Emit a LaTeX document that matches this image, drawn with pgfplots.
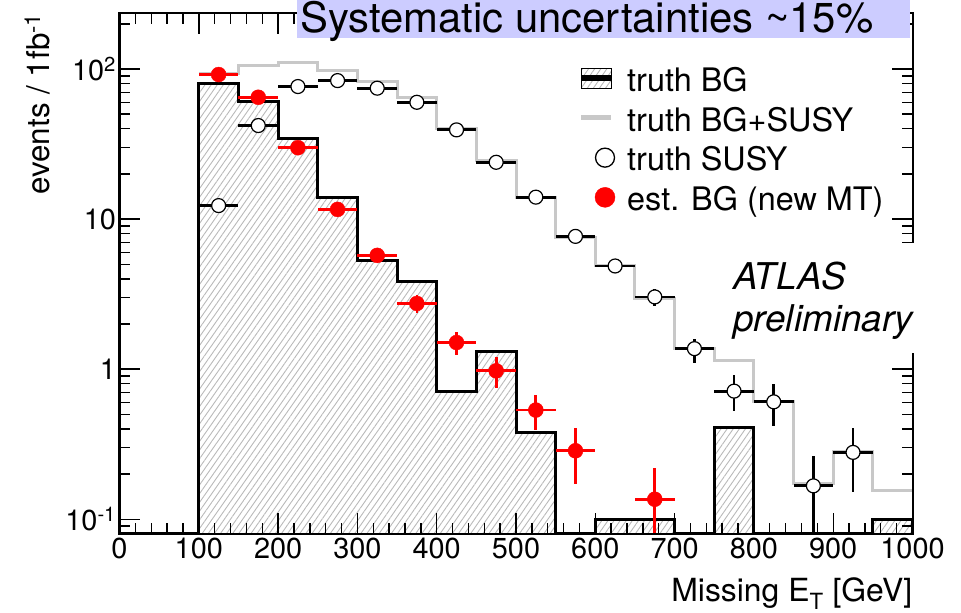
\documentclass[border=0pt]{standalone}
\usepackage{fontspec}
\setmainfont{TeX Gyre Heros}
\usepackage{pgfplots}
\pgfplotsset{compat=1.18}
\usepackage{pgfplotstable}
\usetikzlibrary{patterns.meta}
\definecolor{histgray}{RGB}{200,200,200}
\definecolor{lav}{RGB}{204,204,255}
\definecolor{hatch}{RGB}{185,185,185}

% truth BG histogram (bin left edge, content); 0.08 = empty bin (axis bottom)
\pgfplotstableread{
x y
0 0.08
100 79.6
150 60.7
200 34.6
250 14.0
300 5.31
350 3.85
400 0.714
450 1.318
500 0.38
550 0.08
600 0.1
650 0.1
700 0.08
750 0.409
800 0.08
850 0.08
900 0.08
950 0.1
1000 0.1
1000 0.08
}\truthbg

% truth BG+SUSY histogram
\pgfplotstableread{
x y
100 92.6
150 105
200 111
250 97.6
300 82.8
350 64.3
400 40
450 24.6
500 14.0
550 7.59
600 4.92
650 2.97
700 1.37
750 1.14
800 0.606
850 0.172
900 0.282
950 0.155
1000 0.155
}\bgsusy

% truth SUSY points
\pgfplotstableread{
x y ex eyp eym
125 12.3 25 0.5 0.5
175 42 25 1 1
225 76.4 25 1.5 1.5
275 83.7 25 1.5 1.5
325 74.5 25 1.5 1.5
375 60 25 1.3 1.3
425 39.3 25 1 1
475 23.9 25 0.8 0.8
525 14.0 25 0.6 0.6
575 7.67 25 0.45 0.45
625 4.87 25 0.35 0.35
675 3.03 25 0.4 0.4
725 1.37 25 0.23 0.27
775 0.714 25 0.2 0.19
825 0.606 25 0.19 0.19
875 0.167 25 0.097 0.16
925 0.279 25 0.124 0.126
}\susy

% estimated BG (new MT)
\pgfplotstableread{
x y ex eyp eym
125 91.8 25 1.5 1.5
175 64.8 25 1.3 1.3
225 29.9 25 0.8 0.8
275 11.6 25 0.5 0.5
325 5.73 25 0.35 0.35
375 2.74 25 0.36 0.39
425 1.505 25 0.265 0.265
475 0.975 25 0.235 0.22
525 0.534 25 0.136 0.141
575 0.286 25 0.117 0.113
675 0.136 25 0.082 0.126
}\estbg

\begin{document}
\begin{tikzpicture}
\useasboundingbox (0bp,0bp) rectangle (961bp,613bp);
\begin{axis}[
  at={(119.5bp,79bp)}, anchor=south west,
  scale only axis, width=793bp, height=520.7bp,
  ymode=log,
  xmin=0, xmax=1000, ymin=0.0798, ymax=235,
  xtick={0,100,200,300,400,500,600,700,800,900,1000},
  xticklabels={0,100,200,300,400,500,600,700,800,900,1000},
  minor x tick num=4,
  ytick={0.1,1,10,100},
  yticklabels={10\textsuperscript{-1},1,10,10\textsuperscript{2}},
  minor ytick={0.09,0.2,0.3,0.4,0.5,0.6,0.7,0.8,0.9,2,3,4,5,6,7,8,9,20,30,40,50,60,70,80,90,200},
  tick align=inside,
  major tick length=21bp, minor tick length=11bp,
  tick style={line width=1.4bp, black},
  axis line style={line width=2bp},
  ticklabel style={font=\fontsize{29}{34}\selectfont},
  axis on top,
  xlabel={Missing E\textsubscript{T} [GeV]},
  xlabel style={at={(axis description cs:1,-0.130)}, anchor=base east, inner sep=0pt, font=\fontsize{32}{38}\selectfont},
  ylabel={events / 1fb\textsuperscript{-1}},
  ylabel style={at={(axis description cs:-0.0876,1)}, anchor=south east, inner sep=0pt, font=\fontsize{31.5}{38}\selectfont},
  legend style={at={(rel axis cs:0.5782,0.9007)}, anchor=north west, draw=none, fill=none,
    inner sep=0pt, outer sep=0pt, row sep=13.2bp,
    font=\fontsize{32.5}{38}\selectfont,
    nodes={inner sep=0pt, text height=26.5bp, text depth=0bp},
    /tikz/every odd column/.append style={column sep=12bp}},
  legend cell align=left,
]
\addlegendimage{legend image code/.code={
  \fill[pattern={Lines[angle=55,distance=5bp,line width=0.9bp]}, pattern color=hatch] (0bp,-10bp) rectangle (30bp,10bp);
  \draw[black, line width=6bp] (0bp,0bp) -- (30bp,0bp);}}
\addlegendentry{truth BG}
\addlegendimage{legend image code/.code={
  \draw[histgray, line width=5bp] (0bp,0bp) -- (30bp,0bp);}}
\addlegendentry{truth BG+SUSY}
\addlegendimage{legend image code/.code={
  \draw[black, fill=white, line width=1.3bp] (24bp,0bp) circle (9.5bp);}}
\addlegendentry{truth SUSY}
\addlegendimage{legend image code/.code={
  \fill[red] (24bp,0bp) circle (10bp);}}
\addlegendentry{est. BG (new MT)}

% hatched fill of truth BG
\addplot[const plot, draw=none, pattern={Lines[angle=55,distance=5bp,line width=0.9bp]}, pattern color=hatch, forget plot] table[x=x,y=y] {\truthbg};
% truth BG+SUSY
\addplot[const plot, histgray, line width=3bp, forget plot] table[x=x,y=y] {\bgsusy};
% truth BG outline
\addplot[const plot, black, line width=3bp, forget plot] table[x=x,y=y] {\truthbg};
% truth SUSY
\addplot[only marks, mark=*, mark size=7bp, mark options={draw=black, fill=white, line width=1.2bp},
  error bars/.cd, x dir=both, x explicit, y dir=both, y explicit,
  error mark=none, error bar style={line width=2.8bp, black}]
  table[x=x, y=y, x error=ex, y error plus=eyp, y error minus=eym, forget plot] {\susy};
% est BG
\addplot[only marks, mark=*, mark size=7.5bp, mark options={draw=red, fill=red},
  error bars/.cd, x dir=both, x explicit, y dir=both, y explicit,
  error mark=none, error bar style={line width=2.7bp, red}]
  table[x=x, y=y, x error=ex, y error plus=eyp, y error minus=eym, forget plot] {\estbg};
\end{axis}
\fill[white] (718bp,260bp) rectangle (930bp,370bp);
\fill[lav] (297bp,575bp) rectangle (910bp,613bp);
\node[anchor=base west, inner sep=0pt, font=\fontsize{42}{50}\selectfont] at (300bp,580bp) {Systematic uncertainties \textasciitilde15\%};
\node[anchor=base west, inner sep=0pt, font=\fontsize{37}{44}\selectfont\itshape] at (733bp,323bp) {ATLAS};
\node[anchor=base west, inner sep=0pt, font=\fontsize{37}{44}\selectfont\itshape] at (733bp,281bp) {preliminary};
\end{tikzpicture}
\end{document}
